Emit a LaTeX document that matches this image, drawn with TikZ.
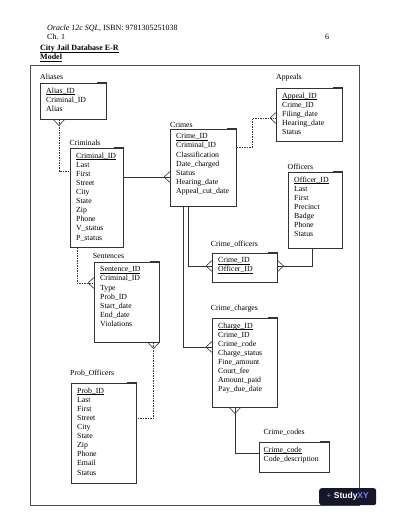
\documentclass[tikz,border=0pt]{standalone}
\usepackage{fontspec}
\setmainfont{Liberation Serif}
\newfontfamily\logofont{Liberation Sans}
\usetikzlibrary{positioning,calc}

\definecolor{logobg}{HTML}{16162A}
\definecolor{logoxy}{HTML}{8478F0}
\definecolor{logoplus}{HTML}{B8B4D8}

\newcommand{\keyattr}[1]{\setbox0\hbox{#1}\rlap{\rule[-1pt]{\wd0}{0.35pt}}\box0}

\tikzset{
  entity/.style={draw=black!80, line width=0.6pt, anchor=north west, inner sep=0pt},
  attrs/.style={anchor=north west, inner sep=0pt, align=left, font=\fontsize{7.8}{9.1}\selectfont},
  title/.style={anchor=base west, inner sep=0pt, font=\fontsize{7.8}{9.1}\selectfont},
  rel/.style={draw=black!80, line width=0.6pt},
  optrel/.style={rel, dash pattern=on 1.5pt off 1pt},
  crowfoot/.pic={\draw[black!80, line width=0.6pt] (-6,0) -- (0,5.5) (-6,0) -- (0,-5.5);}
}

\begin{document}
\begin{tikzpicture}[x=1pt, y=-1pt]
    \fill[white] (0,0) rectangle (400,518);
    \useasboundingbox (0,0) rectangle (400,518);

    % page header
    \node[anchor=base west, inner sep=0, font=\fontsize{8}{9.6}\selectfont] (book) at (47,31) {\textit{Oracle 12c SQL}, ISBN: 9781305251038};
    \node[anchor=base west, inner sep=0, font=\fontsize{8}{9.6}\selectfont] (chap) at (47,40) {Ch. 1};
    \node[anchor=base west, inner sep=0, font=\fontsize{8}{9.6}\selectfont] (page) at (325,40) {6};
    \node[anchor=base west, inner sep=0, font=\fontsize{8}{9.6}\selectfont\bfseries] (head1) at (40,51) {\keyattr{City Jail Database E-R}};
    \node[anchor=base west, inner sep=0, font=\fontsize{8}{9.6}\selectfont\bfseries] (head2) at (40,60) {\keyattr{Model}};

    % frame
    \draw[black!70, line width=0.6pt] (30,65) rectangle (359,505);

    % entities
    \node[entity, minimum width=66pt, minimum height=36pt] (aliases) at (40,83) {};
    \node[title] at (40,80) {Aliases};
    \node[attrs] at ([shift={(6pt,-4.5pt)}]aliases.north west) {\keyattr{Alias\_ID}\\Criminal\_ID\\Alias};

    \node[entity, minimum width=53pt, minimum height=99pt] (criminals) at (70,148) {};
    \node[title] at (69.5,145.4) {Criminals};
    \node[attrs] at ([shift={(6pt,-4.5pt)}]criminals.north west) {\keyattr{Criminal\_ID}\\Last\\First\\Street\\City\\State\\Zip\\Phone\\V\_status\\P\_status};

    \node[entity, minimum width=66pt, minimum height=77pt] (crimes) at (170,129) {};
    \node[title] at (170,127.2) {Crimes};
    \node[attrs] at ([shift={(6pt,-4.5pt)}]crimes.north west) {\keyattr{Crime\_ID}\\Criminal\_ID\\Classification\\Date\_charged\\Status\\Hearing\_date\\Appeal\_cut\_date};

    \node[entity, minimum width=66pt, minimum height=53pt] (appeals) at (276,88) {};
    \node[title] at (276,80) {Appeals};
    \node[attrs] at ([shift={(6pt,-4.5pt)}]appeals.north west) {\keyattr{Appeal\_ID}\\Crime\_ID\\Filing\_date\\Hearing\_date\\Status};

    \node[entity, minimum width=54pt, minimum height=76pt] (officers) at (288,172) {};
    \node[title] at (287.5,169.4) {Officers};
    \node[attrs] at ([shift={(6pt,-4.5pt)}]officers.north west) {\keyattr{Officer\_ID}\\Last\\First\\Precinct\\Badge\\Phone\\Status};

    \node[entity, minimum width=65pt, minimum height=29pt] (crimeoff) at (212,253) {};
    \node[title] at (210.7,246) {Crime\_officers};
    \node[attrs] at ([shift={(6pt,-4.5pt)}]crimeoff.north west) {\keyattr{Crime\_ID}\\\keyattr{Officer\_ID}};

    \node[entity, minimum width=65pt, minimum height=89pt] (crimecharges) at (212,318) {};
    \node[title] at (210.7,310.4) {Crime\_charges};
    \node[attrs] at ([shift={(6pt,-4.5pt)}]crimecharges.north west) {\keyattr{Charge\_ID}\\Crime\_ID\\Crime\_code\\Charge\_status\\Fine\_amount\\Court\_fee\\Amount\_paid\\Pay\_due\_date};

    \node[entity, minimum width=70pt, minimum height=30pt] (crimecodes) at (259,442) {};
    \node[title] at (263.3,434.4) {Crime\_codes};
    \node[attrs] at ([shift={(4.5pt,-4.5pt)}]crimecodes.north west) {\keyattr{Crime\_code}\\Code\_description};

    \node[entity, minimum width=65pt, minimum height=80pt] (sentences) at (94,262) {};
    \node[title] at (92.7,258.7) {Sentences};
    \node[attrs] at ([shift={(6pt,-4.5pt)}]sentences.north west) {\keyattr{Sentence\_ID}\\Criminal\_ID\\Type\\Prob\_ID\\Start\_date\\End\_date\\Violations};

    \node[entity, minimum width=65pt, minimum height=100pt] (probofficers) at (71,383) {};
    \node[title] at (70,375.4) {Prob\_Officers};
    \node[attrs] at ([shift={(6pt,-4.5pt)}]probofficers.north west) {\keyattr{Prob\_ID}\\Last\\First\\Street\\City\\State\\Zip\\Phone\\Email\\Status};

    % small tabs at the top right corners
    \foreach \e in {aliases,criminals,crimes,appeals,officers,crimeoff,crimecharges,crimecodes,sentences,probofficers}
      \draw[black!80, line width=0.9pt] ([xshift=-10pt,yshift=0.3pt]\e.north east) -- ([yshift=0.3pt]\e.north east);

    % relationships
    \draw[optrel] ([xshift=19pt]aliases.south west) |- ([yshift=-23pt]criminals.north west);
    \pic[rotate=90] at ([xshift=19pt]aliases.south west) {crowfoot};

    \draw[rel, line width=0.9pt] ([yshift=-29pt]criminals.north east) -- ([yshift=-48pt]crimes.north west);
    \pic at ([yshift=-48pt]crimes.north west) {crowfoot};

    \draw[optrel] ([yshift=-18pt]crimes.north east) -- ++(16,0) |- ([yshift=-30pt]appeals.north west);
    \pic at ([yshift=-30pt]appeals.north west) {crowfoot};

    \draw[rel] ([xshift=18pt]crimes.south west) |- ([yshift=-13pt]crimeoff.north west);
    \pic at ([yshift=-13pt]crimeoff.north west) {crowfoot};

    \draw[rel] ([xshift=24pt]officers.south west) |- ([yshift=-13pt]crimeoff.north east);
    \pic[rotate=180] at ([yshift=-13pt]crimeoff.north east) {crowfoot};

    \draw[rel] ([xshift=13pt]crimes.south west) |- ([yshift=-29pt]crimecharges.north west);
    \pic at ([yshift=-29pt]crimecharges.north west) {crowfoot};

    \draw[rel] ([xshift=23pt]crimecharges.south west) |- ([yshift=-11pt]crimecodes.north west);
    \pic[rotate=90] at ([xshift=23pt]crimecharges.south west) {crowfoot};

    \draw[optrel] ([xshift=7pt]criminals.south west) |- ([yshift=-21pt]sentences.north west);
    \pic at ([yshift=-21pt]sentences.north west) {crowfoot};

    \draw[optrel] ([xshift=-6pt]sentences.south east) |- ([yshift=-35pt]probofficers.north east);
    \pic[rotate=90] at ([xshift=-6pt]sentences.south east) {crowfoot};

    % watermark
    \node[fill=logobg, rounded corners=2.5pt, minimum width=57pt, minimum height=17pt, inner sep=0pt, anchor=north west,
          font=\logofont\bfseries\fontsize{8.5}{9}\selectfont] (logo) at (319,488)
          {\textcolor{logoplus}{\normalfont +}\hspace{2.5pt}\textcolor{white}{Study}\textcolor{logoxy}{XY}};
  \end{tikzpicture}
\end{document}
